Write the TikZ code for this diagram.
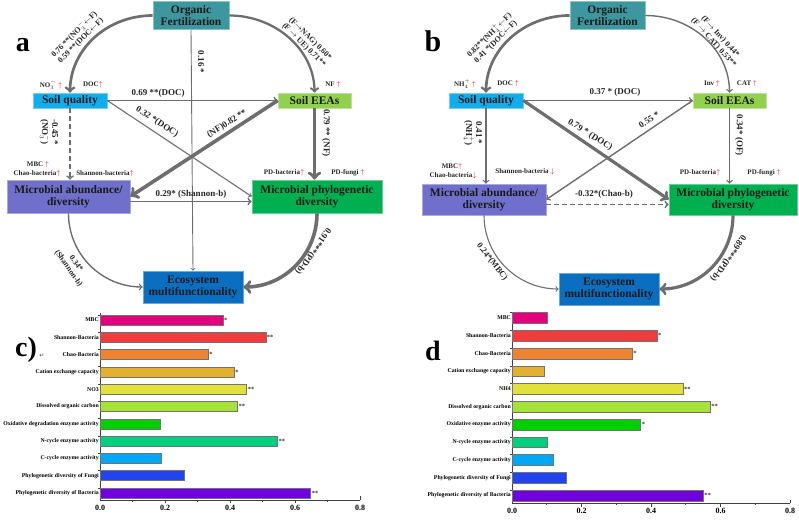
\documentclass[tikz,border=0pt]{standalone}
\usepackage{fontspec}
\setmainfont{Liberation Serif}
\newfontfamily\symfont{DejaVu Sans}

\definecolor{ofteal}{HTML}{3C989E}
\definecolor{sqblue}{HTML}{12AEEC}
\definecolor{segreen}{HTML}{92D050}
\definecolor{madpurple}{HTML}{7070CC}
\definecolor{mpdgreen}{HTML}{00B050}
\definecolor{emfblue}{HTML}{0A6FC0}
\definecolor{linegray}{HTML}{6E6E6E}

\definecolor{barMBC}{HTML}{E5007D}
\definecolor{barShan}{HTML}{F03C3C}
\definecolor{barChao}{HTML}{EE8430}
\definecolor{barCEC}{HTML}{E3B030}
\definecolor{barNit}{HTML}{E2E03A}
\definecolor{barDOC}{HTML}{A6E23A}
\definecolor{barOxi}{HTML}{00D000}
\definecolor{barNcy}{HTML}{00D080}
\definecolor{barCcy}{HTML}{00A8F5}
\definecolor{barFun}{HTML}{2244EE}
\definecolor{barBac}{HTML}{7000E0}

\newcommand{\redup}{\textcolor{red}{$\uparrow$}}
\newcommand{\reddown}{\textcolor{red}{$\downarrow$}}

\tikzset{
  boxnode/.style={fill=#1, draw=#1!60!white, line width=0.6pt, align=center, inner sep=1pt, text=black!90, font=\bfseries\fontsize{11.5}{12.5}\selectfont},
  edgelbl/.style={inner sep=0pt, align=center, text=black!85, font=\bfseries\fontsize{9}{10}\selectfont},
  arclbl/.style={inner sep=0pt, align=center, text=black!85, font=\bfseries\fontsize{8}{9}\selectfont},
  chglbl/.style={inner sep=0pt, text=black!85, font=\bfseries\fontsize{7}{8}\selectfont},
  panellbl/.style={inner sep=0pt, font=\bfseries\fontsize{28}{30}\selectfont},
  thinlink/.style={->, draw=linegray, line width=1.1pt},
  midlink/.style={->, draw=linegray, line width=1.7pt},
  boldlink/.style={->, draw=linegray, line width=2.7pt},
  heavylink/.style={->, draw=linegray, line width=3.6pt},
  dashlink/.style={dash pattern=on 5pt off 3pt},
  barbox/.style={draw=black!55, line width=0.5pt},
  barlbl/.style={anchor=east, inner sep=1pt, font=\bfseries\fontsize{5.8}{6}\selectfont},
  starlbl/.style={anchor=west, inner sep=1pt, text=black!80, font=\bfseries\fontsize{6.5}{7}\selectfont},
  ticklbl/.style={below=5pt, inner sep=0pt, font=\bfseries\fontsize{8}{9}\selectfont},
  axisline/.style={draw=black!75, line width=0.6pt},
}

\begin{document}
\begin{tikzpicture}[x=1pt, y=-1pt]
\useasboundingbox (0,0) rectangle (799,522);

%%%%%%%%%%%%%%%%%%%%%%%%%%%%%%%%%%%%%%%%%%%%%%%%%%%%%%%%%%%%%%%%
% Panel a
%%%%%%%%%%%%%%%%%%%%%%%%%%%%%%%%%%%%%%%%%%%%%%%%%%%%%%%%%%%%%%%%

\node[panellbl] (a_lbl) at (23,45) {a};

% Boxes
\node[boxnode=ofteal, minimum width=76pt, minimum height=28pt] (a_OF) at (191,15.5) {Organic\\Fertilization};
\node[boxnode=sqblue, minimum width=74pt, minimum height=15pt] (a_SQ) at (70,100.5) {Soil quality};
\node[boxnode=segreen, minimum width=73pt, minimum height=15pt] (a_SE) at (314.5,100.5) {Soil EEAs};
\node[boxnode=madpurple, minimum width=123pt, minimum height=33pt] (a_MAD) at (68.5,196.5) {Microbial abundance/\\diversity};
\node[boxnode=mpdgreen, minimum width=130pt, minimum height=33pt] (a_MPD) at (317,196.5) {Microbial phylogenetic\\diversity};
\node[boxnode=emfblue, minimum width=100pt, minimum height=32pt] (a_EMF) at (193,287) {Ecosystem\\multifunctionality};

% Changes
\node[chglbl] (a_c1) at (51,85) {NO$_3^-$ \redup};
\node[chglbl] (a_c2) at (93,85) {DOC\redup};
\node[chglbl] (a_c3) at (333,85) {NF \redup};
\node[chglbl] (a_c4) at (38,165) {MBC \redup};
\node[chglbl] (a_c5) at (37,174) {Chao-bacteria\redup};
\node[chglbl] (a_c6) at (105,174) {Shannon-bacteria\redup};
\node[chglbl] (a_c7) at (284,173) {PD-bacteria\redup};
\node[chglbl] (a_c8) at (348,173) {PD-fungi \redup};

% Edges
\draw[boldlink] (a_OF.west) .. controls +(-46,0) and +(0,-43) .. (a_SQ.north);
\draw[boldlink, line width=2.3pt] (a_OF.east) .. controls +(46,0) and +(0,-43) .. (a_SE.north);
\draw[thinlink, line width=0.9pt] (a_OF.south) -- (a_EMF.north);
\draw[midlink] (a_SQ.east) -- (a_SE.west);
\draw[thinlink] (a_SQ.east) -- (a_MPD.west);
\draw[heavylink] (a_SE.west) -- (a_MAD.east);
\draw[midlink, dashlink] (a_SQ.south) -- (a_SQ.south |- a_MAD.north);
\draw[heavylink] (a_SE.south) -- (a_SE.south |- a_MPD.north);
\draw[midlink] ([yshift=-5pt]a_MAD.east) -- ([yshift=-5pt]a_MPD.west);
\draw[thinlink, line width=1.4pt] (a_MAD.south) .. controls +(0,41) and +(-41,0) .. (a_EMF.west);
\draw[heavylink] (a_MPD.south) .. controls +(0,41) and +(41,0) .. (a_EMF.east);

% Coefficients
\node[arclbl, rotate=45] (a_e1) at (77,37) {0.76 **(NO$_3^-$$\leftarrow$F)\\0.59 **(DOC$\leftarrow$F)};
\node[arclbl, rotate=-45] (a_e2) at (307,42) {(F$\rightarrow$NAG) 0.60*\\(F $\rightarrow$ UE) 0.71**};
\node[edgelbl, rotate=-90] (a_e3) at (201,62) {0.16 *};
\node[edgelbl] (a_e4) at (158,93) {0.69 **(DOC)};
\node[edgelbl, rotate=-33] (a_e5) at (157,122) {0.32 *(DOC)};
\node[edgelbl, rotate=32] (a_e6) at (227,124) {(NF)0.82 **};
\node[edgelbl, rotate=-90] (a_e7) at (49,132) {-0.45 *\\(NO$_3^-$)};
\node[edgelbl, rotate=-90] (a_e8) at (326,133) {0.79 ** (NF)};
\node[edgelbl] (a_e9) at (191,194) {0.29* (Shannon-b)};
\node[arclbl, rotate=-55] (a_e10) at (72,266) {0.34*\\(Shannon-b)};
\node[edgelbl, rotate=-125] (a_e11) at (313,251) {0.91***(PD-b)};

%%%%%%%%%%%%%%%%%%%%%%%%%%%%%%%%%%%%%%%%%%%%%%%%%%%%%%%%%%%%%%%%
% Panel b
%%%%%%%%%%%%%%%%%%%%%%%%%%%%%%%%%%%%%%%%%%%%%%%%%%%%%%%%%%%%%%%%

\node[panellbl, font=\bfseries\fontsize{30}{32}\selectfont] (b_lbl) at (433,41) {b};

% Boxes
\node[boxnode=ofteal, minimum width=75pt, minimum height=28pt] (b_OF) at (607.5,15.5) {Organic\\Fertilization};
\node[boxnode=sqblue, minimum width=74pt, minimum height=15pt] (b_SQ) at (486,100.5) {Soil quality};
\node[boxnode=segreen, minimum width=73pt, minimum height=15pt] (b_SE) at (729.5,100.5) {Soil EEAs};
\node[boxnode=madpurple, minimum width=124pt, minimum height=31pt] (b_MAD) at (484,199.5) {Microbial abundance/\\diversity};
\node[boxnode=mpdgreen, minimum width=128pt, minimum height=31pt] (b_MPD) at (733,199.5) {Microbial phylogenetic\\diversity};
\node[boxnode=emfblue, minimum width=100pt, minimum height=32pt] (b_EMF) at (609,289) {Ecosystem\\multifunctionality};

% Changes
\node[chglbl] (b_c1) at (465,84) {NH$_4^+$ \redup};
\node[chglbl] (b_c2) at (508,84) {DOC \redup};
\node[chglbl] (b_c3) at (712,84) {Inv \redup};
\node[chglbl] (b_c4) at (747,84) {CAT \redup};
\node[chglbl] (b_c5) at (452,167) {MBC\redup};
\node[chglbl] (b_c6) at (453,176) {Chao-bacteria\reddown};
\node[chglbl] (b_c7) at (525,172) {Shannon-bacteria \reddown};
\node[chglbl] (b_c8) at (700,173) {PD-bacteria\redup};
\node[chglbl] (b_c9) at (764,173) {PD-fungi \redup};

% Edges
\draw[boldlink] (b_OF.west) .. controls +(-46,0) and +(0,-43) .. (b_SQ.north);
\draw[thinlink, line width=1.4pt] (b_OF.east) .. controls +(46,0) and +(0,-43) .. (b_SE.north);
\draw[thinlink, line width=1.4pt] (b_SQ.east) -- (b_SE.west);
\draw[heavylink, line width=3.2pt] (b_SQ.east) -- (b_MPD.west);
\draw[thinlink, line width=1.4pt] (b_SE.west) -- (b_MAD.east);
\draw[thinlink, line width=1.4pt] (b_SQ.south) -- (b_SQ.south |- b_MAD.north);
\draw[thinlink, line width=1.4pt] (b_SE.south) -- (b_SE.south |- b_MPD.north);
\draw[midlink, dashlink] ([yshift=-5pt]b_MAD.east) -- ([yshift=-5pt]b_MPD.west);
\draw[thinlink] (b_MAD.south) .. controls +(0,41) and +(-41,0) .. (b_EMF.west);
\draw[heavylink, line width=3.2pt] (b_MPD.south) .. controls +(0,41) and +(41,0) .. (b_EMF.east);

% Coefficients
\node[arclbl, rotate=45] (b_e1) at (492,38) {0.82**(NH$_4^+$$\leftarrow$F)\\0.41 *(DOC$\leftarrow$F)};
\node[arclbl, rotate=-48] (b_e2) at (717,40) {(F$\rightarrow$ Inv) 0.44*\\(F $\rightarrow$ CAT) 0.53**};
\node[edgelbl] (b_e3) at (615,92) {0.37 * (DOC)};
\node[edgelbl, rotate=-32] (b_e4) at (590,135) {0.79 * (DOC)};
\node[edgelbl, rotate=33] (b_e5) at (649,120) {0.55 *};
\node[edgelbl, rotate=-90] (b_e6) at (473,133) {0.41 *\\(NH$_4^+$)};
\node[edgelbl, rotate=-90] (b_e7) at (739,135) {0.34* (OF)};
\node[edgelbl] (b_e8) at (604,194) {-0.32*(Chao-b)};
\node[edgelbl, font=\bfseries\fontsize{8.5}{9}\selectfont, rotate=-52] (b_e9) at (492,262) {0.24*(MBC)};
\node[edgelbl, rotate=-125] (b_e10) at (728,258) {0.89***(PD-b)};

%%%%%%%%%%%%%%%%%%%%%%%%%%%%%%%%%%%%%%%%%%%%%%%%%%%%%%%%%%%%%%%%
% Panel c
%%%%%%%%%%%%%%%%%%%%%%%%%%%%%%%%%%%%%%%%%%%%%%%%%%%%%%%%%%%%%%%%

\node[panellbl] (c_lbl) at (26,350) {c)};
\node[inner sep=0pt, text=black!70, font=\symfont\fontsize{6}{6}\selectfont] (c_ret) at (42,356) {↵};

\begin{scope}[shift={(100,320)}, x=325pt, y=-17.3pt]
% Axes
\draw[axisline] (0,-0.4) -- (0,10.4) -- (0.8,10.4);
\foreach \k in {0,...,10} \draw[axisline] (0,\k-0.3) -- ++(-2pt,0);
\draw[axisline] (0.2,10.4) -- ++(0,0.18) (0.4,10.4) -- ++(0,0.18) (0.6,10.4) -- ++(0,0.18) (0.8,10.4) -- ++(0,-0.2);
\draw[axisline] (0.1,10.4) -- ++(0,0.12) (0.3,10.4) -- ++(0,0.12) (0.5,10.4) -- ++(0,0.12) (0.7,10.4) -- ++(0,0.12);
\node[ticklbl] at (0,10.4) {0.0};
\node[ticklbl] at (0.2,10.4) {0.2};
\node[ticklbl] at (0.4,10.4) {0.4};
\node[ticklbl] at (0.6,10.4) {0.6};
\node[ticklbl] at (0.8,10.4) {0.8};

% Bars
\draw[barbox, fill=barMBC] (0,-0.29) rectangle (0.378,0.29); \node[starlbl] at (0.378,0) {*};
\draw[barbox, fill=barShan] (0,0.71) rectangle (0.51,1.29); \node[starlbl] at (0.51,1) {**};
\draw[barbox, fill=barChao] (0,1.71) rectangle (0.333,2.29); \node[starlbl] at (0.333,2) {*};
\draw[barbox, fill=barCEC] (0,2.71) rectangle (0.413,3.29); \node[starlbl] at (0.413,3) {*};
\draw[barbox, fill=barNit] (0,3.71) rectangle (0.451,4.29); \node[starlbl] at (0.451,4) {**};
\draw[barbox, fill=barDOC] (0,4.71) rectangle (0.423,5.29); \node[starlbl] at (0.423,5) {**};
\draw[barbox, fill=barOxi] (0,5.71) rectangle (0.185,6.29);
\draw[barbox, fill=barNcy] (0,6.71) rectangle (0.546,7.29); \node[starlbl] at (0.546,7) {**};
\draw[barbox, fill=barCcy] (0,7.71) rectangle (0.188,8.29);
\draw[barbox, fill=barFun] (0,8.71) rectangle (0.26,9.29);
\draw[barbox, fill=barBac] (0,9.71) rectangle (0.648,10.29); \node[starlbl] at (0.648,10) {**};

% Names
\node[barlbl] at (0,0) {MBC};
\node[barlbl] at (0,1) {Shannon-Bacteria};
\node[barlbl] at (0,2) {Chao-Bacteria};
\node[barlbl] at (0,3) {Cation exchange capacity};
\node[barlbl] at (0,4) {NO3};
\node[barlbl] at (0,5) {Dissolved organic carbon};
\node[barlbl] at (0,6) {Oxidative degradation enzyme activity};
\node[barlbl] at (0,7) {N-cycle enzyme activity};
\node[barlbl] at (0,8) {C-cycle enzyme activity};
\node[barlbl] at (0,9) {Phylogenetic diversity of Fungi};
\node[barlbl] at (0,10) {Phylogenetic diversity of Bacteria};
\end{scope}

%%%%%%%%%%%%%%%%%%%%%%%%%%%%%%%%%%%%%%%%%%%%%%%%%%%%%%%%%%%%%%%%
% Panel d
%%%%%%%%%%%%%%%%%%%%%%%%%%%%%%%%%%%%%%%%%%%%%%%%%%%%%%%%%%%%%%%%

\node[panellbl] (d_lbl) at (433,351) {d};

\begin{scope}[shift={(512,318)}, x=347.5pt, y=-17.75pt]
% Axes
\draw[axisline] (0,-0.35) -- (0,10.44) -- (0.8,10.44);
\foreach \k in {0,...,10} \draw[axisline] (0,\k-0.3) -- ++(-2pt,0);
\draw[axisline] (0.2,10.44) -- ++(0,0.18) (0.4,10.44) -- ++(0,0.18) (0.6,10.44) -- ++(0,0.18) (0.8,10.44) -- ++(0,-0.2);
\draw[axisline] (0.1,10.44) -- ++(0,0.12) (0.3,10.44) -- ++(0,0.12) (0.5,10.44) -- ++(0,0.12) (0.7,10.44) -- ++(0,0.12);
\node[ticklbl] at (0,10.44) {0.0};
\node[ticklbl] at (0.2,10.44) {0.2};
\node[ticklbl] at (0.4,10.44) {0.4};
\node[ticklbl] at (0.6,10.44) {0.6};
\node[ticklbl] at (0.8,10.44) {0.8};

% Bars
\draw[barbox, fill=barMBC] (0,-0.3) rectangle (0.1,0.3);
\draw[barbox, fill=barShan] (0,0.7) rectangle (0.417,1.3); \node[starlbl] at (0.417,1) {*};
\draw[barbox, fill=barChao] (0,1.7) rectangle (0.346,2.3); \node[starlbl] at (0.346,2) {*};
\draw[barbox, fill=barCEC] (0,2.7) rectangle (0.093,3.3);
\draw[barbox, fill=barNit] (0,3.7) rectangle (0.492,4.3); \node[starlbl] at (0.492,4) {**};
\draw[barbox, fill=barDOC] (0,4.7) rectangle (0.57,5.3); \node[starlbl] at (0.57,5) {**};
\draw[barbox, fill=barOxi] (0,5.7) rectangle (0.37,6.3); \node[starlbl] at (0.37,6) {*};
\draw[barbox, fill=barNcy] (0,6.7) rectangle (0.1,7.3);
\draw[barbox, fill=barCcy] (0,7.7) rectangle (0.12,8.3);
\draw[barbox, fill=barFun] (0,8.7) rectangle (0.155,9.3);
\draw[barbox, fill=barBac] (0,9.7) rectangle (0.55,10.3); \node[starlbl] at (0.55,10) {**};

% Names
\node[barlbl] at (0,0) {MBC};
\node[barlbl] at (0,1) {Shannon-Bacteria};
\node[barlbl] at (0,2) {Chao-Bacteria};
\node[barlbl] at (0,3) {Cation exchange capacity};
\node[barlbl] at (0,4) {NH4};
\node[barlbl] at (0,5) {Dissolved organic carbon};
\node[barlbl] at (0,6) {Oxidative enzyme activity};
\node[barlbl] at (0,7) {N-cycle enzyme activity};
\node[barlbl] at (0,8) {C-cycle enzyme activity};
\node[barlbl] at (0,9) {Phylogenetic diversity of Fungi};
\node[barlbl] at (0,10) {Phylogenetic diversity of Bacteria};
\end{scope}

\end{tikzpicture}
\end{document}
